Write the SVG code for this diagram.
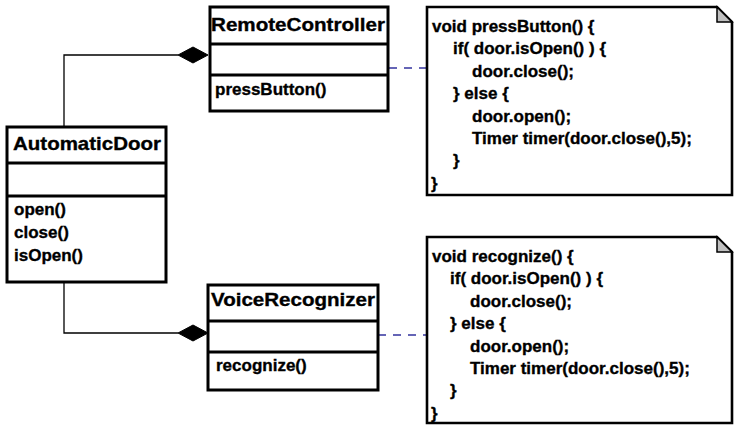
<svg xmlns="http://www.w3.org/2000/svg" width="734" height="425" viewBox="0 0 734 425">
  <style>
    text { font-family: "Liberation Sans", Arial, Helvetica, sans-serif; font-weight: bold; fill: #000; stroke: #000; stroke-width: 0.35; }
    .title { font-size: 19px; }
    .member { font-size: 17px; }
    .code { font-size: 17px; }
    .box { fill: #fff; stroke: #000; stroke-width: 3; }
    .div { stroke: #000; stroke-width: 3; }
    .assoc { fill: none; stroke: #000; stroke-width: 1.3; }
    .diamond { fill: #000; stroke: #000; stroke-width: 1; }
    .anchor { stroke: #33339f; stroke-width: 1.4; stroke-dasharray: 8 7; }
    .note { fill: #fff; stroke: #000; stroke-width: 2.6; stroke-linejoin: miter; }
    .fold { fill: #c0c0c0; stroke: #000; stroke-width: 1.5; }
  </style>

  <rect width="734" height="425" fill="#fff"/>

  <!-- connectors: composition links and note anchors -->
  <g id="connectors">
    <polyline class="assoc" points="178,55 64,55 64,127"/>
    <polygon class="diamond" points="178,55 193,47 208,55 193,63"/>
    <polyline class="assoc" points="64,282 64,333 178,333"/>
    <polygon class="diamond" points="178,333 193,325 208,333 193,341"/>
    <line class="anchor" x1="389" y1="68" x2="427" y2="68"/>
    <line class="anchor" x1="378" y1="335" x2="427" y2="335"/>
  </g>

  <!-- class RemoteController -->
  <g id="RemoteController">
    <rect class="box" x="210" y="7" width="178" height="104"/>
    <line class="div" x1="210" y1="44" x2="388" y2="44"/>
    <line class="div" x1="210" y1="75" x2="388" y2="75"/>
    <text class="title" x="211" y="31" textLength="174" lengthAdjust="spacingAndGlyphs">RemoteController</text>
    <text class="member" x="215" y="95">pressButton()</text>
  </g>

  <!-- class AutomaticDoor -->
  <g id="AutomaticDoor">
    <rect class="box" x="7" y="127" width="159" height="155"/>
    <line class="div" x1="7" y1="163" x2="166" y2="163"/>
    <line class="div" x1="7" y1="196" x2="166" y2="196"/>
    <text class="title" x="13" y="150" textLength="148" lengthAdjust="spacingAndGlyphs">AutomaticDoor</text>
    <text class="member" x="14" y="215">open()</text>
    <text class="member" x="14" y="238">close()</text>
    <text class="member" x="14" y="261">isOpen()</text>
  </g>

  <!-- class VoiceRecognizer -->
  <g id="VoiceRecognizer">
    <rect class="box" x="208" y="285" width="170" height="105"/>
    <line class="div" x1="208" y1="321" x2="378" y2="321"/>
    <line class="div" x1="208" y1="352" x2="378" y2="352"/>
    <text class="title" x="211" y="306" textLength="164" lengthAdjust="spacingAndGlyphs">VoiceRecognizer</text>
    <text class="member" x="216" y="371">recognize()</text>
  </g>

  <!-- note: pressButton body -->
  <g id="note-pressButton">
    <path class="note" d="M427,7 H717 L732,22 V195 H427 Z"/>
    <path class="fold" d="M717,7 V22 H732 Z"/>
    <text class="code" x="432" y="32">void pressButton() {</text>
    <text class="code" x="453" y="54.4">if( door.isOpen() ) {</text>
    <text class="code" x="472" y="76.8">door.close();</text>
    <text class="code" x="453" y="99.2">} else {</text>
    <text class="code" x="472" y="121.6">door.open();</text>
    <text class="code" x="472" y="144">Timer timer(door.close(),5);</text>
    <text class="code" x="453" y="166.4">}</text>
    <text class="code" x="431" y="188.8">}</text>
  </g>

  <!-- note: recognize body -->
  <g id="note-recognize">
    <path class="note" d="M427,237 H717 L732,252 V423 H427 Z"/>
    <path class="fold" d="M717,237 V252 H732 Z"/>
    <text class="code" x="432" y="262">void recognize() {</text>
    <text class="code" x="450" y="284.4">if( door.isOpen() ) {</text>
    <text class="code" x="470" y="306.8">door.close();</text>
    <text class="code" x="450" y="329.2">} else {</text>
    <text class="code" x="470" y="351.6">door.open();</text>
    <text class="code" x="470" y="374">Timer timer(door.close(),5);</text>
    <text class="code" x="450" y="396.4">}</text>
    <text class="code" x="431" y="418.8">}</text>
  </g>
</svg>
